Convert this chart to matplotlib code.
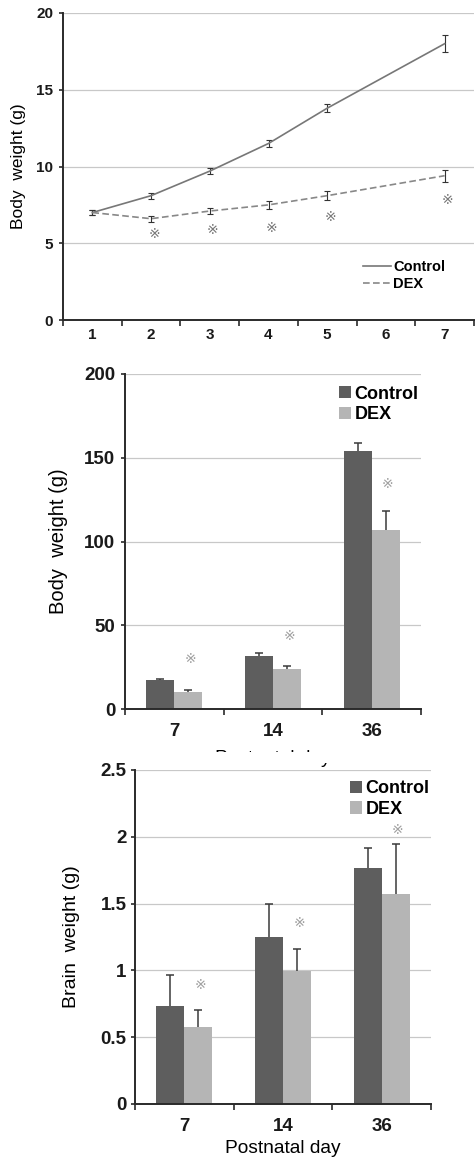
import numpy as np
import matplotlib
matplotlib.use("Agg")
import matplotlib.pyplot as plt
from matplotlib.patches import Rectangle

plt.rcParams['font.family'] = ['Liberation Sans', 'DejaVu Sans']

# top panel: body weight by postnatal day (no point on day 6)
days = [1, 2, 3, 4, 5, 7]
ctrl_bw = [7.0, 8.1, 9.7, 11.5, 13.8, 18.0]
ctrl_bw_err = [0.15, 0.2, 0.2, 0.2, 0.25, 0.55]
dex_bw = [7.0, 6.6, 7.1, 7.5, 8.1, 9.4]
dex_bw_err = [0.15, 0.2, 0.2, 0.25, 0.3, 0.4]
star_days = [2, 3, 4, 5, 7]
star_bw = [5.6, 5.85, 6.0, 6.7, 7.85]

# middle / bottom panels
groups = ['7', '14', '36']
ctrl_body = [17.3, 31.6, 153.8]
ctrl_body_err = [0.6, 1.8, 5.0]
dex_body = [10.3, 23.7, 106.9]
dex_body_err = [0.8, 1.8, 11.3]
star_body = [29.9, 43.4, 134.3]

ctrl_brain = [0.733, 1.251, 1.770]
ctrl_brain_err = [0.234, 0.245, 0.149]
dex_brain = [0.578, 0.995, 1.575]
dex_brain_err = [0.122, 0.164, 0.369]
star_brain = [0.892, 1.353, 2.05]

W, H = 475, 1161
fig = plt.figure(figsize=(W / 100, H / 100), dpi=100)


def px_axes(left, top, right, bottom):
    return fig.add_axes([left / W, 1 - bottom / H, (right - left) / W, (bottom - top) / H])


def style(ax, ticksize, xpad, ypad):
    for s in ['top', 'right']:
        ax.spines[s].set_visible(False)
    for s in ['left', 'bottom']:
        ax.spines[s].set_color('#2a2a2a')
        ax.spines[s].set_linewidth(1.4)
    ax.yaxis.grid(True, color='#c8c8c8', lw=0.9)
    ax.set_axisbelow(True)
    ax.tick_params(axis='y', direction='out', length=3, width=1.2, color='#2a2a2a',
                   labelsize=ticksize, pad=ypad, labelcolor='#1a1a1a')
    ax.tick_params(axis='x', which='major', length=4, width=1.2, color='#2a2a2a')
    ax.tick_params(axis='x', which='minor', length=0, pad=xpad,
                   labelsize=ticksize, labelcolor='#1a1a1a')
    for t in ax.get_yticklabels() + ax.get_xticklabels(minor=True):
        t.set_fontweight('bold')


CTRL = '#5e5e5e'
DEX = '#b5b5b5'
STAR = dict(ha='center', va='center', family=['DejaVu Sans', 'Noto Sans CJK JP'])

# ---- panel 1 ----
ax1 = px_axes(63, 13, 474, 320)
ax1.errorbar(days, ctrl_bw, yerr=ctrl_bw_err, color='#777777', lw=1.2,
             ecolor='#333333', elinewidth=0.8, capsize=2, capthick=0.8, label='Control')
ax1.errorbar(days, dex_bw, yerr=dex_bw_err, color='#888888', lw=1.2, ls=(0, (4, 2)),
             ecolor='#333333', elinewidth=0.8, capsize=2, capthick=0.8, label='DEX')
for d, s in zip(star_days, star_bw):
    ax1.text(d + 0.05, s, '\u203b', fontsize=10, color='#777777', **STAR)
ax1.set_xlim(0.5, 7.5)
ax1.set_ylim(0, 20)
ax1.set_yticks([0, 5, 10, 15, 20])
ax1.set_xticks(np.arange(0.5, 8, 1), [''] * 8)
ax1.set_xticks(range(1, 8), [str(i) for i in range(1, 8)], minor=True)
style(ax1, 11, 6, 4)
ax1.set_ylabel('Body  weight (g)', fontsize=12.5, va='center')
ax1.yaxis.set_label_coords(-0.109, 0.5)
h, l = ax1.get_legend_handles_labels()
ax1.legend([x[0] for x in h], l, loc='center left', bbox_to_anchor=(0.730, 0.145),
           frameon=False, prop={'size': 10.5, 'weight': 'bold'}, handlelength=1.95,
           handletextpad=0.1, borderpad=0, borderaxespad=0, labelspacing=0.25)


def bar_panel(ax, ctrl, ctrl_err, dex, dex_err, stars, ymax, yticks, ylabel, ylab_size,
              ylab_x, leg_xy, ticksize):
    x = np.arange(len(groups))
    w = 0.284
    ax.bar(x - w / 2, ctrl, w, color=CTRL, label='Control', zorder=2)
    ax.bar(x + w / 2, dex, w, color=DEX, label='DEX', zorder=2)
    for pos, vals, err in [(x - w / 2, ctrl, ctrl_err), (x + w / 2, dex, dex_err)]:
        eb = ax.errorbar(pos, vals, yerr=[np.zeros(len(vals)), err], fmt='none',
                         ecolor='#3a3a3a', elinewidth=1.1, capsize=3, capthick=1.1,
                         zorder=1)
        # only the upper half of the bar is shown in the source
        eb[1][0].set_visible(False)
    for xi, s in zip(x, stars):
        ax.text(xi + w / 2 + 0.02, s, '\u203b', fontsize=10, color='#a0a0a0', **STAR)
    ax.set_xlim(-0.5, len(groups) - 0.5)
    ax.set_ylim(0, ymax)
    ax.set_yticks(yticks)
    ax.set_xticks(np.arange(-0.5, len(groups), 1), [''] * (len(groups) + 1))
    ax.set_xticks(x, groups, minor=True)
    style(ax, ticksize, 10, 4)
    ax.set_ylabel(ylabel, fontsize=ylab_size, va='center')
    ax.yaxis.set_label_coords(ylab_x, 0.5)
    ax.legend(loc='center left', bbox_to_anchor=leg_xy, frameon=False,
              prop={'size': 13, 'weight': 'bold'},
              handlelength=0.66, handleheight=0.66, handletextpad=0.2,
              borderpad=0, borderaxespad=0, labelspacing=0.2)


# ---- panel 2 ----
ax2 = px_axes(125, 374, 421, 709)
bar_panel(ax2, ctrl_body, ctrl_body_err, dex_body, dex_body_err, star_body,
          200, [0, 50, 100, 150, 200], 'Body  weight (g)', 14.5, -0.226, (0.723, 0.909), 13.5)
ax2.set_xlabel('Postnatal day', fontsize=13.8, labelpad=7.5)
# the x label of this panel is cut off in the source figure
fig.add_artist(Rectangle((0, 1 - 763 / H), 1, 11 / H, transform=fig.transFigure,
                         facecolor='white', edgecolor='none', zorder=1))

# ---- panel 3 ----
ax3 = px_axes(135, 770, 431, 1104)
bar_panel(ax3, ctrl_brain, ctrl_brain_err, dex_brain, dex_brain_err, star_brain,
          2.5, [0, 0.5, 1, 1.5, 2, 2.5], 'Brain  weight (g)', 14, -0.213, (0.726, 0.913),
          13.5)
ax3.set_yticklabels(['0', '0.5', '1', '1.5', '2', '2.5'], fontweight='bold')
ax3.tick_params(axis='y', pad=3)
ax3.set_xlabel('Postnatal day', fontsize=13.8, labelpad=4)
ax3.set_zorder(2)

fig.savefig('out.png', dpi=100)
